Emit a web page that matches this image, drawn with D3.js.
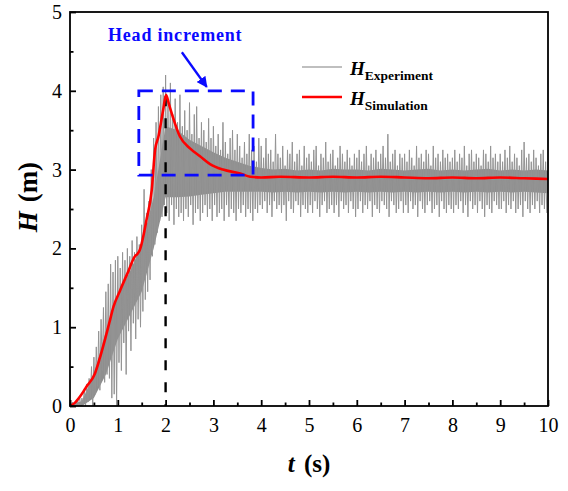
<!DOCTYPE html>
<html>
<head>
<meta charset="utf-8">
<script src="https://cdn.jsdelivr.net/npm/d3@7"></script>
<style>
  body { margin: 0; background: #fff; }
  text { font-family: "Liberation Serif", "Times New Roman", serif; }
</style>
</head>
<body>
<script>
// experiment: upper / lower spikes of the noisy signal, one pair every 0.05 s
const expStep = 0.05;
const expHigh = [
  0.03,0.05,0.04,0.08,0.12,0.10,0.22,0.28,0.35,0.50,0.62,0.75,0.95,1.10,1.25,1.45,1.55,1.80,1.70,1.85,
  1.90,1.75,1.95,1.85,2.00,1.90,2.10,1.95,2.15,2.05,2.30,2.75,2.45,2.60,3.00,3.40,3.60,3.80,3.95,4.05,
  4.20,3.85,4.10,3.70,3.90,3.60,3.95,3.55,3.75,3.50,3.85,3.45,3.70,3.80,3.40,3.60,3.50,3.35,3.65,3.40,
  3.55,3.30,3.45,3.25,3.60,3.35,3.20,3.40,3.50,3.25,3.45,3.30,3.15,3.35,3.20,3.45,3.25,3.30,3.10,3.40,
  3.30,3.15,3.40,3.20,3.25,3.10,3.45,3.20,3.15,3.30,3.05,3.25,3.20,3.35,3.10,3.20,3.25,3.05,3.30,3.15,
  3.20,3.10,3.25,3.30,3.05,3.20,3.15,3.35,3.10,3.20,3.25,3.05,3.15,3.30,3.20,3.10,3.25,3.15,3.05,3.20,
  3.15,3.25,3.10,3.20,3.30,3.05,3.20,3.15,3.25,3.10,3.20,3.30,3.15,3.45,3.10,3.20,3.25,3.05,3.20,3.15,
  3.20,3.10,3.25,3.15,3.05,3.30,3.15,3.20,3.10,3.25,3.20,3.05,3.30,3.15,3.20,3.10,3.25,3.15,3.20,3.10,
  3.15,3.25,3.10,3.20,3.15,3.30,3.05,3.20,3.25,3.10,3.20,3.15,3.05,3.25,3.20,3.10,3.30,3.15,3.20,3.10,
  3.20,3.10,3.25,3.15,3.30,3.10,3.20,3.15,3.05,3.25,3.35,3.15,3.20,3.10,3.25,3.15,3.05,3.20,3.25,3.10
];
const expLow = [
  0.00,0.00,0.00,0.00,0.00,0.02,0.00,0.05,0.10,0.00,0.15,0.25,0.20,0.45,0.30,0.40,0.35,0.10,0.15,0.00,
  0.55,0.45,0.80,0.40,0.95,0.70,1.05,0.85,1.10,1.00,1.20,1.35,1.45,1.60,1.90,2.05,2.20,2.35,2.40,2.55,
  2.45,2.35,2.55,2.30,2.50,2.40,2.45,2.35,2.50,2.40,2.55,2.30,2.45,2.50,2.35,2.45,2.55,2.40,2.50,2.35,
  2.55,2.40,2.45,2.50,2.35,2.55,2.40,2.50,2.45,2.35,2.50,2.45,2.55,2.40,2.50,2.45,2.35,2.50,2.45,2.55,
  2.50,2.60,2.45,2.55,2.40,2.60,2.50,2.55,2.45,2.55,2.35,2.60,2.50,2.45,2.60,2.55,2.40,2.55,2.50,2.45,
  2.55,2.45,2.60,2.50,2.40,2.55,2.60,2.45,2.50,2.55,2.45,2.55,2.40,2.60,2.50,2.55,2.45,2.60,2.50,2.40,
  2.50,2.60,2.45,2.55,2.50,2.60,2.40,2.55,2.50,2.45,2.60,2.55,2.50,2.40,2.60,2.55,2.45,2.50,2.60,2.45,
  2.55,2.45,2.60,2.50,2.55,2.40,2.60,2.50,2.45,2.55,2.60,2.45,2.50,2.55,2.40,2.60,2.50,2.45,2.55,2.50,
  2.45,2.55,2.50,2.60,2.45,2.55,2.40,2.60,2.50,2.55,2.45,2.60,2.50,2.40,2.55,2.50,2.45,2.60,2.55,2.50,
  2.50,2.60,2.45,2.55,2.50,2.60,2.45,2.50,2.55,2.40,2.60,2.50,2.45,2.55,2.50,2.60,2.45,2.55,2.50,2.45
];

// experiment: dense dark core of the signal, every 0.25 s
const coreStep = 0.25;
const coreHigh = [0.02,0.06,0.40,0.95,1.40,1.70,2.05,2.65,3.55,3.50,3.38,3.30,3.22,3.15,3.10,3.05,3.02,
  3.00,3.01,2.99,3.00,2.99,3.01,3.00,3.00,2.99,3.01,3.00,2.99,3.00,3.01,2.99,3.00,2.99,3.00,3.01,2.99,3.00,2.99,3.00,2.99];
const coreLow = [0.00,0.00,0.10,0.40,0.85,1.15,1.45,2.00,2.65,2.65,2.66,2.68,2.70,2.72,2.72,2.72,2.72,
  2.71,2.72,2.71,2.72,2.71,2.72,2.71,2.72,2.71,2.72,2.71,2.72,2.71,2.72,2.71,2.72,2.71,2.72,2.71,2.72,2.71,2.72,2.71,2.70];

// simulation curve
const simT = [0,0.1,0.21,0.35,0.52,0.62,0.73,0.82,0.91,1.05,1.2,1.36,1.41,1.46,1.6,1.71,1.78,1.85,1.95,2.01,
  2.07,2.13,2.3,2.51,2.72,2.93,3.2,3.56,3.77,4.0,4.4,5,5.5,6,6.5,7,7.5,8,8.5,9,9.5,10];
const simH = [0,0.04,0.12,0.25,0.41,0.6,0.84,1.05,1.26,1.47,1.68,1.9,1.93,1.98,2.36,2.74,3.25,3.42,3.76,3.95,
  3.83,3.71,3.42,3.27,3.17,3.07,3.0,2.95,2.91,2.9,2.91,2.9,2.91,2.9,2.91,2.9,2.89,2.9,2.89,2.9,2.89,2.88];

// annotation values (data units)
const boxT = [1.44, 3.83];
const boxH = [2.93, 4.0];
const peakT = 2.0, peakH = 3.93;
const arrowFrom = [2.34, 4.49], arrowTo = [2.86, 4.05];

const xTicks = d3.range(0, 11, 1);
const xMinor = d3.range(0.5, 10, 1);
const yTicks = d3.range(0, 6, 1);
const yMinor = d3.range(0.5, 5, 1);

const width = 568, height = 491;
const x = d3.scaleLinear().domain([0, 10]).range([70, 548]);
const y = d3.scaleLinear().domain([0, 5]).range([406, 12]);

const svg = d3.select("body").append("svg")
    .attr("width", width)
    .attr("height", height);

// experiment signal: spikes alternate high/low excursions
const expPts = [];
expHigh.forEach((h, i) => {
    expPts.push([i * expStep, h]);
    expPts.push([i * expStep + expStep / 2, expLow[i]]);
});

const line = d3.line().x(d => x(d[0])).y(d => y(Math.max(0, d[1])));

const core = d3.area()
    .x((d, i) => x(i * coreStep))
    .y0(d => y(d[0]))
    .y1(d => y(d[1]));

svg.append("path")
    .attr("d", core(coreLow.map((v, i) => [v, coreHigh[i]])))
    .attr("fill", "#8e8e8e");

svg.append("path")
    .attr("d", line(expPts))
    .attr("fill", "none")
    .attr("stroke", "#949494")
    .attr("stroke-width", 1.0);

// black dashed marker at the peak
svg.append("line")
    .attr("x1", x(peakT)).attr("x2", x(peakT))
    .attr("y1", y(peakH)).attr("y2", y(0))
    .attr("stroke", "#000")
    .attr("stroke-width", 2.4)
    .attr("stroke-dasharray", "10,12");

// simulation curve
svg.append("path")
    .attr("d", line.curve(d3.curveMonotoneX)(simT.map((t, i) => [t, simH[i]])))
    .attr("fill", "none")
    .attr("stroke", "#ff0000")
    .attr("stroke-width", 2.6)
    .attr("stroke-linejoin", "round");

// head increment box
svg.append("rect")
    .attr("x", x(boxT[0]))
    .attr("y", y(boxH[1]))
    .attr("width", x(boxT[1]) - x(boxT[0]))
    .attr("height", y(boxH[0]) - y(boxH[1]))
    .attr("fill", "none")
    .attr("stroke", "#0a0aff")
    .attr("stroke-width", 2.8)
    .attr("stroke-dasharray", "14,9");

svg.append("defs").append("marker")
    .attr("id", "arrow")
    .attr("viewBox", "0 0 10 10")
    .attr("refX", 9).attr("refY", 5)
    .attr("markerWidth", 4.5).attr("markerHeight", 4.5)
    .attr("orient", "auto")
    .append("path")
    .attr("d", "M0,0L10,5L0,10Z")
    .attr("fill", "#0a0aff");

svg.append("line")
    .attr("x1", x(arrowFrom[0])).attr("y1", y(arrowFrom[1]))
    .attr("x2", x(arrowTo[0])).attr("y2", y(arrowTo[1]))
    .attr("stroke", "#0a0aff")
    .attr("stroke-width", 2.4)
    .attr("marker-end", "url(#arrow)");

svg.append("text")
    .attr("x", 108).attr("y", 41)
    .attr("font-size", 18)
    .attr("letter-spacing", 0.8)
    .attr("font-weight", "bold")
    .attr("fill", "#0a0aff")
    .text("Head increment");

// axes, ticks pointing inward
svg.append("g")
    .attr("transform", `translate(0,${y(0)})`)
    .call(d3.axisBottom(x).tickValues(xTicks).tickSize(-6).tickPadding(12).tickFormat(d3.format("d")));
svg.append("g")
    .attr("transform", `translate(0,${y(0)})`)
    .call(d3.axisBottom(x).tickValues(xMinor).tickSize(-3.5).tickFormat(""));
svg.append("g")
    .attr("transform", `translate(${x(0)},0)`)
    .call(d3.axisLeft(y).tickValues(yTicks).tickSize(-6).tickPadding(8).tickFormat(d3.format("d")));
svg.append("g")
    .attr("transform", `translate(${x(0)},0)`)
    .call(d3.axisLeft(y).tickValues(yMinor).tickSize(-3.5).tickFormat(""));

svg.selectAll(".domain").remove();
svg.selectAll(".tick line").attr("stroke", "#000").attr("stroke-width", 1.8);
svg.selectAll(".tick text")
    .attr("font-size", 20)
    .attr("fill", "#000");

svg.append("rect")
    .attr("x", x(0)).attr("y", y(5))
    .attr("width", x(10) - x(0))
    .attr("height", y(0) - y(5))
    .attr("fill", "none")
    .attr("stroke", "#000")
    .attr("stroke-width", 1.8);

// axis titles
const xt = svg.append("text")
    .attr("x", (x(0) + x(10)) / 2).attr("y", 472)
    .attr("text-anchor", "middle")
    .attr("font-size", 25)
    .attr("word-spacing", 3)
    .attr("font-weight", "bold");
xt.append("tspan").attr("font-style", "italic").text("t");
xt.append("tspan").text(" (s)");

const yt = svg.append("text")
    .attr("transform", `translate(37,197) rotate(-90)`)
    .attr("text-anchor", "middle")
    .attr("font-size", 27)
    .attr("word-spacing", 2)
    .attr("font-weight", "bold");
yt.append("tspan").attr("font-style", "italic").text("H");
yt.append("tspan").text(" (m)");

// legend
const legend = [
    { sub: "Experiment", color: "#aaaaaa", w: 1.3, y: 67 },
    { sub: "Simulation", color: "#ff0000", w: 2.6, y: 97 }
];
legend.forEach(d => {
    svg.append("line")
        .attr("x1", 302).attr("x2", 342)
        .attr("y1", d.y).attr("y2", d.y)
        .attr("stroke", d.color)
        .attr("stroke-width", d.w);
    const t = svg.append("text")
        .attr("x", 350).attr("y", d.y + 8)
        .attr("font-weight", "bold");
    t.append("tspan").attr("font-style", "italic").attr("font-size", 19).text("H");
    t.append("tspan").attr("font-size", 13.5).attr("dy", 5).text(d.sub);
});
</script>
</body>
</html>
